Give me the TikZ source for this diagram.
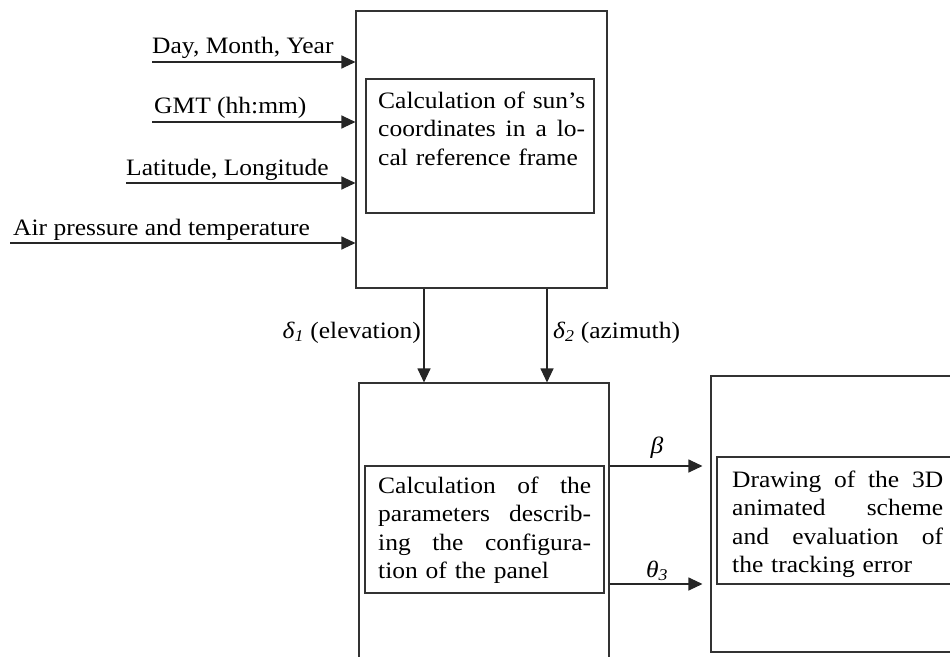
\documentclass[tikz,border=0pt]{standalone}
\usepackage{fontspec}
\setmainfont{Liberation Serif}[FakeStretch=1.085]
\usetikzlibrary{arrows.meta}
\newcommand\lbfont{\fontsize{23.5}{28.5}\selectfont}
\newcommand\jline[2]{\leavevmode\hbox to #1{#2}}
\begin{document}
\begin{tikzpicture}[x=1pt,y=-1pt,
  box/.style={draw=black!80, line width=1.1pt, rectangle, inner sep=0pt},
  arr/.style={draw=black!85, line width=1.1pt, -{Triangle[length=14pt,width=13pt]}},
  lbl/.style={inner sep=0pt, font=\lbfont},
  txt/.style={inner sep=0pt, anchor=base west, align=left, font=\lbfont}]
\clip (0,0) rectangle (950,656);
% boxes
\node[box, minimum width=251pt, minimum height=277pt] (b1) at (481.5,149.5) {};
\node[box, minimum width=228pt, minimum height=134pt] (in1) at (480,146) {};
\node[box, minimum width=250pt, minimum height=337pt] (b2) at (484,551.5) {};
\node[box, minimum width=239pt, minimum height=127pt] (in2) at (484.5,529.5) {};
\node[box, minimum width=289pt, minimum height=276pt] (b3) at (855.5,514) {};
\node[box, minimum width=283pt, minimum height=127pt] (in3) at (858.5,520.5) {};
% texts in boxes
\node[txt, text width=207pt] (t1) at (378,108) {\jline{207pt}{Calculation\hfill of\hfill sun's}\\\jline{207pt}{coordinates\hfill in\hfill a\hfill lo-}\\cal reference frame};
\node[txt, text width=213pt] (t2) at (378,493) {\jline{213pt}{Calculation\hfill of\hfill the}\\\jline{213pt}{parameters\hfill describ-}\\\jline{213pt}{ing\hfill the\hfill configura-}\\tion of the panel};
\node[txt, text width=211pt] (t3) at (732,487) {\jline{211pt}{Drawing\hfill of\hfill the\hfill 3D}\\\jline{211pt}{animated\hfill scheme}\\\jline{211pt}{and\hfill evaluation\hfill of}\\the tracking error};
% inputs
\coordinate (i1) at (152,62);
\coordinate (i2) at (152,122);
\coordinate (i3) at (126,183);
\coordinate (i4) at (10,243);
\node[lbl, anchor=base west] (l1) at (152,53) {Day, Month, Year};
\node[lbl, anchor=base west] (l2) at (154,113) {GMT (hh:mm)};
\node[lbl, anchor=base west] (l3) at (126,175) {Latitude, Longitude};
\node[lbl, anchor=base west] (l4) at (13,235) {Air pressure and temperature};
\draw[arr] (i1) -- (i1 -| b1.west);
\draw[arr] (i2) -- (i2 -| b1.west);
\draw[arr] (i3) -- (i3 -| b1.west);
\draw[arr] (i4) -- (i4 -| b1.west);
% down arrows
\coordinate (d1) at (424,0);
\coordinate (d2) at (547,0);
\draw[arr] (b1.south -| d1) -- (b2.north -| d1);
\draw[arr] (b1.south -| d2) -- (b2.north -| d2);
\node[lbl, anchor=base east] (ld1) at (421,338) {\textit{δ\textsubscript{1}} (elevation)};
\node[lbl, anchor=base west] (ld2) at (553,338) {\textit{δ\textsubscript{2}} (azimuth)};
% right arrows
\coordinate (r1) at (0,466);
\coordinate (r2) at (0,584);
\draw[arr, shorten >=8pt] (b2.east |- r1) -- (b3.west |- r1);
\draw[arr, shorten >=8pt] (b2.east |- r2) -- (b3.west |- r2);
\node[lbl, anchor=base] (lb) at (657,453) {\textit{β}};
\node[lbl, anchor=base] (lt) at (657,577) {\textit{θ\textsubscript{3}}};
\end{tikzpicture}
\end{document}
